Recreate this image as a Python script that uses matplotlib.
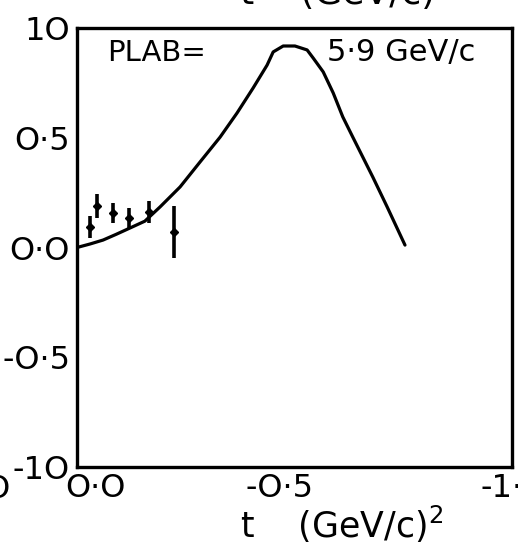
import matplotlib
matplotlib.use("Agg")
import matplotlib.pyplot as plt
from matplotlib.transforms import ScaledTranslation

# Model curve (momentum transfer t vs. polarisation-like quantity)
t_curve = [0.0, -0.03, -0.06, -0.09, -0.122, -0.156, -0.191, -0.237, -0.283,
           -0.329, -0.368, -0.405, -0.437, -0.451, -0.474, -0.501, -0.529,
           -0.543, -0.566, -0.589, -0.611, -0.634, -0.657, -0.680, -0.713,
           -0.754]
v_curve = [0.0, 0.016, 0.034, 0.06, 0.089, 0.12, 0.185, 0.276, 0.390,
           0.503, 0.613, 0.727, 0.831, 0.891, 0.918, 0.918, 0.900,
           0.863, 0.800, 0.704, 0.595, 0.503, 0.412, 0.321, 0.185,
           0.011]

# Measured points with errors
t_data = [-0.030, -0.046, -0.083, -0.120, -0.166, -0.223]
v_data = [0.093, 0.19, 0.157, 0.134, 0.16, 0.07]
v_err = [0.05, 0.055, 0.046, 0.045, 0.05, 0.12]

y_ticks = [1.0, 0.5, 0.0, -0.5, -1.0]
y_tick_labels = ["1O", "O·5", "O·O", "-O·5", "-1O"]
x_ticks = [0.0, -0.5, -1.0]
x_tick_labels = ["O·O", "-O·5", "-1·O"]

W, H = 518, 553
fig = plt.figure(figsize=(W / 100, H / 100), dpi=100)
fig.patch.set_facecolor("white")
ax = fig.add_axes([77 / W, 1 - 467 / H, (512 - 77) / W, (467 - 28) / H])

ax.plot(t_curve, v_curve, color="black", lw=2.3, solid_capstyle="round",
        solid_joinstyle="round")
ax.errorbar(t_data, v_data, yerr=v_err, fmt="D", color="black", ms=4.5,
            elinewidth=2.6, capsize=0)

ax.set_xlim(0.0, -1.0)
ax.set_ylim(-1.0, 1.0)

for sp in ax.spines.values():
    sp.set_linewidth(2.4)

ax.set_yticks(y_ticks, y_tick_labels)
ax.set_xticks(x_ticks, x_tick_labels)
ax.tick_params(axis="both", which="major", length=0, labelsize=23)
ax.tick_params(axis="y", which="major", pad=5)
ax.tick_params(axis="x", which="major", pad=4)
ax.set_yticks([0.5, -0.5], minor=True)
ax.set_xticks([-0.5], minor=True)
ax.tick_params(axis="both", which="minor", direction="in", length=10,
               width=2.2, labelleft=False, labelbottom=False)

# nudge the x tick labels sideways
shifts = [0.18, -0.15, 0.02]
for lab, dx in zip(ax.get_xticklabels(), shifts):
    lab.set_transform(lab.get_transform() + ScaledTranslation(dx, 0, fig.dpi_scale_trans))

ax.text(107 / W, 1 - 53 / H, "PLAB=", transform=fig.transFigure,
        fontsize=21, va="center", ha="left")
ax.text(327 / W, 1 - 53 / H, "5·9 GeV/c", transform=fig.transFigure,
        fontsize=22, va="center", ha="left")

# axis title below
fig.text(240 / W, 1 - 538 / H, "t    (GeV/c)$^{2}$", fontsize=25, ha="left",
         va="baseline")

# neighbouring panel's labels spilling over the edges
fig.text(240 / W, 1 - 4 / H, "t    (GeV/c)", fontsize=26, ha="left",
         va="baseline")
fig.text(11 / W, 1 - 490 / H, "-1·O", fontsize=23, ha="right", va="center")

fig.savefig("out.png", dpi=100, facecolor="white")
